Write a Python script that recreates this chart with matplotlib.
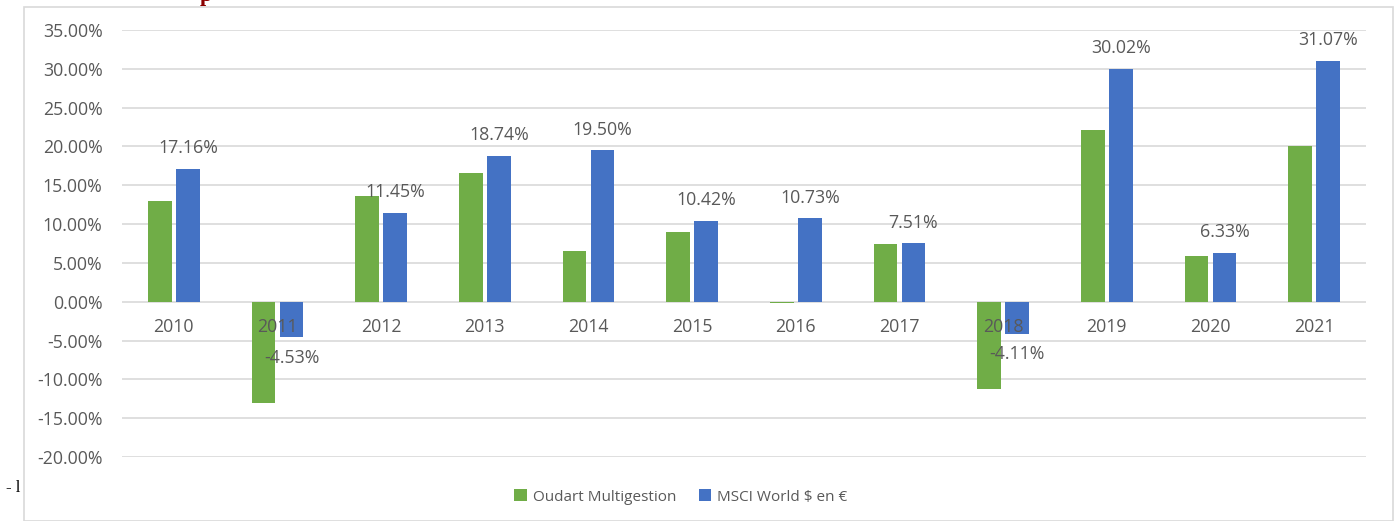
import numpy as np
import matplotlib.pyplot as plt
import matplotlib.transforms as mtransforms
from matplotlib.patches import Rectangle

# data
years = ['2010', '2011', '2012', '2013', '2014', '2015', '2016', '2017', '2018', '2019', '2020', '2021']
oudart = [13.0, -13.0, 13.6, 16.6, 6.5, 9.0, -0.2, 7.4, -11.3, 22.1, 5.9, 20.1]
msci = [17.16, -4.53, 11.45, 18.74, 19.50, 10.42, 10.73, 7.51, -4.11, 30.02, 6.33, 31.07]
yticks = [35, 30, 25, 20, 15, 10, 5, 0, -5, -10, -15, -20]

green = '#70AD47'
blue = '#4472C4'
txt = '#595959'
grid = '#D9D9D9'
fs = 12.8

plt.rcParams['font.family'] = ['Open Sans', 'DejaVu Sans']

fig = plt.figure(figsize=(13.97, 5.21), dpi=100)
ax = fig.add_axes([122 / 1397, 1 - 457 / 521, 1244 / 1397, 427 / 521])

# outer chart frame
fig.patches.append(Rectangle((24 / 1397, 0), 1369 / 1397, 1 - 7 / 521, transform=fig.transFigure,
                             fill=False, edgecolor='#D9D9D9', lw=1.2))

x = np.arange(len(years))
w = 0.23
off = 0.135
ax.bar(x - off, oudart, w, color=green, label='Oudart Multigestion', zorder=3)
ax.bar(x + off, msci, w, color=blue, label='MSCI World $ en €', zorder=3)

ax.set_xlim(-0.5, len(years) - 0.5)
ax.set_ylim(-20, 35)
ax.set_yticks(yticks)
ax.set_yticklabels([f'{v:.2f}%' for v in yticks], fontsize=fs, color=txt)
ax.tick_params(axis='y', length=0, pad=14)
ax.set_xticks([])
for s in ax.spines.values():
    s.set_visible(False)
for v in yticks:
    ax.axhline(v, color=grid, lw=1.2, zorder=1)

# year labels just under the zero line
tr = mtransforms.offset_copy(ax.transData, fig=fig, x=0, y=-18, units='points')
for i, yr in enumerate(years):
    ax.text(i, 0, yr, ha='center', va='center', fontsize=fs, color=txt, transform=tr, zorder=4)

# value labels on MSCI bars
for i, v in enumerate(msci):
    dy = 15 if v >= 0 else -15
    ax.annotate(f'{v:.2f}%', (i + off, v), xytext=(0, dy), textcoords='offset points',
                ha='center', va='center', fontsize=fs, color=txt, zorder=4)

fig.legend(loc='center', bbox_to_anchor=(681 / 1397, 1 - 497 / 521), ncol=2, frameon=False,
           fontsize=11, labelcolor=txt, handlelength=0.8, handleheight=0.8, columnspacing=1.5,
           handletextpad=0.4)

# stray fragments of the surrounding page
fig.text(6 / 1397, 1 - 488 / 521, '- l', family='Liberation Serif', fontsize=12, va='center')
fig.text(200 / 1397, 1 + 4 / 521, 'p', family='Liberation Serif', fontsize=16, color='#8B0000',
         fontweight='bold', va='center')

fig.savefig('out.png', dpi=100)
